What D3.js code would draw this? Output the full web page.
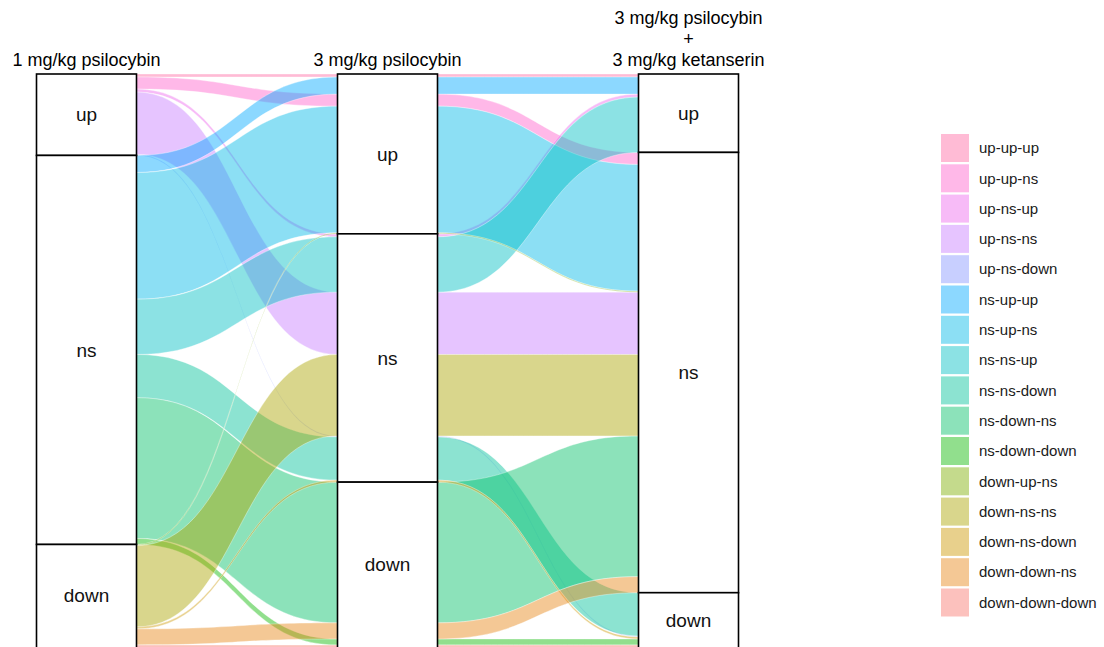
<!DOCTYPE html>
<html>
<head>
<meta charset="utf-8">
<script src="https://cdn.jsdelivr.net/npm/d3@7"></script>
<style>
  html, body { margin: 0; padding: 0; background: #fff; }
  svg { display: block; font-family: "Liberation Sans", Arial, sans-serif; }
</style>
</head>
<body>
<svg id="chart" width="1104" height="647"></svg>
<script>
// Response pattern of each gene across the three treatments
const patterns = [
  "up-up-up", "up-up-ns", "up-ns-up", "up-ns-ns", "up-ns-down",
  "ns-up-up", "ns-up-ns", "ns-ns-up", "ns-ns-down", "ns-down-ns", "ns-down-down",
  "down-up-ns", "down-ns-ns", "down-ns-down", "down-down-ns", "down-down-down"
];
const geneCounts = [3, 12, 3, 62, 1, 17, 126, 55, 43, 140, 6, 1, 81, 2, 16, 3];

// Treatment axes and their strata
const axisTitles = [
  ["1 mg/kg psilocybin"],
  ["3 mg/kg psilocybin"],
  ["3 mg/kg psilocybin", "+", "3 mg/kg ketanserin"]
];
const strata = ["up", "ns", "down"];

// Stacking order of the alluvia inside each axis (top to bottom)
const stackOrder1 = [
  "up-up-up", "up-up-ns", "up-ns-up", "up-ns-ns", "up-ns-down",
  "ns-up-up", "ns-up-ns", "ns-ns-up", "ns-ns-down", "ns-down-ns", "ns-down-down",
  "down-up-ns", "down-ns-ns", "down-ns-down", "down-down-ns", "down-down-down"
];
const stackOrder2 = [
  "up-up-up", "ns-up-up", "up-up-ns", "ns-up-ns", "down-up-ns",
  "up-ns-up", "ns-ns-up", "up-ns-ns", "down-ns-ns", "up-ns-down", "ns-ns-down", "down-ns-down",
  "ns-down-ns", "down-down-ns", "ns-down-down", "down-down-down"
];
const stackOrder3 = [
  "up-up-up", "ns-up-up", "up-ns-up", "ns-ns-up",
  "up-up-ns", "ns-up-ns", "down-up-ns", "up-ns-ns", "down-ns-ns", "ns-down-ns", "down-down-ns",
  "ns-ns-down", "up-ns-down", "down-ns-down", "ns-down-down", "down-down-down"
];
const stackOrders = [stackOrder1, stackOrder2, stackOrder3];

// ggplot hue palette (16 levels), reversed
const palette = [
  "#FF68A1", "#FF61CC", "#ED68ED", "#C77CFF", "#8494FF",
  "#00A9FF", "#00B8E7", "#00BFC4", "#00C19A", "#00BE67", "#0CB702",
  "#7CAE00", "#ABA300", "#CD9600", "#E68613", "#F8766D"
];
const flowAlpha = 0.45;

const svg = d3.select("#chart");

const countOf = new Map(patterns.map((p, i) => [p, geneCounts[i]]));
const total = d3.sum(geneCounts);

const x = d3.scalePoint().domain([0, 1, 2]).range([86.5, 688.5]);
const boxW = 100;
const y = d3.scaleLinear().domain([0, total]).range([74, 648]);
const color = d3.scaleOrdinal().domain(patterns).range(palette);

// cumulative position of each alluvium on each axis
const lodes = stackOrders.map(order => {
  const m = new Map();
  let acc = 0;
  order.forEach(p => { m.set(p, [acc, acc + countOf.get(p)]); acc += countOf.get(p); });
  return m;
});

// stratum extents on each axis
const strataPos = [0, 1, 2].map(a => strata.map(s => {
  const members = patterns.filter(p => p.split("-")[a] === s);
  const lo = d3.min(members, p => lodes[a].get(p)[0]);
  const hi = d3.max(members, p => lodes[a].get(p)[1]);
  return { axis: a, name: s, lo, hi };
}));

function ribbon(xa, a0, a1, xb, b0, b1) {
  const xm = (xa + xb) / 2;
  return `M${xa},${a0} C${xm},${a0} ${xm},${b0} ${xb},${b0}` +
         ` L${xb},${b1} C${xm},${b1} ${xm},${a1} ${xa},${a1} Z`;
}

// alluvia between neighbouring axes
const flows = svg.append("g").attr("class", "flows");
[0, 1].forEach(a => {
  const xa = x(a) + boxW / 2, xb = x(a + 1) - boxW / 2;
  patterns.forEach(p => {
    const [s0, e0] = lodes[a].get(p);
    const [s1, e1] = lodes[a + 1].get(p);
    flows.append("path")
      .attr("d", ribbon(xa, y(s0), y(e0), xb, y(s1), y(e1)))
      .attr("fill", color(p))
      .attr("fill-opacity", flowAlpha)
      .attr("stroke", "#fff")
      .attr("stroke-opacity", 0.7)
      .attr("stroke-width", 0.5);
  });
});

// strata boxes
const boxes = svg.append("g").attr("class", "strata");
strataPos.flat().forEach(d => {
  boxes.append("rect")
    .attr("x", x(d.axis) - boxW / 2)
    .attr("y", y(d.lo))
    .attr("width", boxW)
    .attr("height", y(d.hi) - y(d.lo))
    .attr("fill", "#fff")
    .attr("stroke", "#000")
    .attr("stroke-width", 1.6);
  boxes.append("text")
    .attr("x", x(d.axis))
    .attr("y", (y(d.lo) + Math.min(y(d.hi), 647)) / 2)
    .attr("dy", "0.35em")
    .attr("text-anchor", "middle")
    .attr("font-size", 19)
    .attr("fill", "#111")
    .text(d.name);
});

// axis titles
const titles = svg.append("g").attr("class", "titles");
axisTitles.forEach((lines, a) => {
  const n = lines.length;
  lines.forEach((t, i) => {
    titles.append("text")
      .attr("x", x(a))
      .attr("y", 66 - (n - 1 - i) * 21)
      .attr("text-anchor", "middle")
      .attr("font-size", 18)
      .attr("fill", "#000")
      .text(t);
  });
});

// legend
const legend = svg.append("g").attr("class", "legend").attr("transform", "translate(941,134)");
patterns.forEach((p, i) => {
  const row = legend.append("g").attr("transform", `translate(0,${i * 30.3})`);
  row.append("rect")
    .attr("width", 28).attr("height", 28)
    .attr("fill", color(p))
    .attr("fill-opacity", flowAlpha);
  row.append("text")
    .attr("x", 38).attr("y", 14)
    .attr("dy", "0.35em")
    .attr("font-size", 15)
    .attr("fill", "#1a1a1a")
    .text(p);
});
</script>
</body>
</html>
